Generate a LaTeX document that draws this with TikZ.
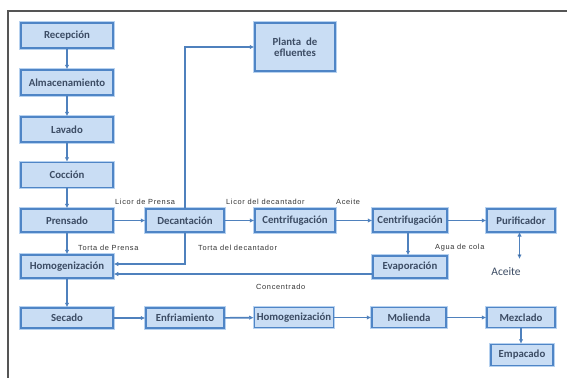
\documentclass[tikz,border=0pt]{standalone}
\usepackage{fontspec}
\setmainfont{Carlito}
\newfontfamily\lblfont[LetterSpace=9]{Liberation Sans}
\usetikzlibrary{arrows.meta}
\definecolor{boxfill}{HTML}{C9DDF4}
\definecolor{boxline}{HTML}{4F85C6}
\definecolor{boxhalo}{HTML}{B7D2F0}
\definecolor{arrowc}{HTML}{4F81BD}
\definecolor{boxtext}{HTML}{3C4C64}
\definecolor{framec}{HTML}{555555}
\tikzset{
  procbox/.style={draw=boxline, line width=1.5pt, fill=boxfill,
    preaction={draw=boxhalo, line width=3.5pt},
    inner sep=0pt, align=center, text=boxtext,
    font=\fontsize{10.8}{11.5}\selectfont\bfseries},
  lbl/.style={inner sep=0pt, text=black!80, font=\lblfont\fontsize{7.4}{8}\selectfont},
  flow/.style={draw=arrowc, line width=1.6pt, -{Latex[length=4.5pt,width=4.5pt]}},
}
\begin{document}
\begin{tikzpicture}[x=1pt,y=-1pt]
\useasboundingbox (0,0) rectangle (567,378);
\fill[white] (0,0) rectangle (567,378);
% frame
\draw[framec, line width=1.4pt] (567,11) -- (8,11) -- (8,378);

% left column
\node[procbox, minimum width=92pt, minimum height=25pt] (rec) at (67,35.5) {Recepción};
\node[procbox, minimum width=92pt, minimum height=25pt] (alm) at (67,82.5) {Almacenamiento};
\node[procbox, minimum width=92pt, minimum height=25pt] (lav) at (67,129.5) {Lavado};
\node[procbox, minimum width=92pt, minimum height=25pt] (coc) at (67,175) {Cocción};
\node[procbox, minimum width=92pt, minimum height=23pt] (pre) at (67,220.5) {Prensado};
\node[procbox, minimum width=92pt, minimum height=23pt] (hom1) at (67,266.5) {Homogenización};
\node[procbox, minimum width=92pt, minimum height=20pt] (sec) at (67,318) {Secado};

% other boxes
\node[procbox, minimum width=78pt, minimum height=23pt] (dec) at (185,220.5) {Decantación};
\node[procbox, minimum width=78pt, minimum height=20pt] (enf) at (185,318) {Enfriamiento};
\node[procbox, minimum width=80pt, minimum height=48pt] (pla) at (295,47) {Planta\ \ de\\efluentes};
\node[procbox, minimum width=80pt, minimum height=23pt] (cen1) at (295,220.5) {Centrifugación};
\node[procbox, minimum width=79pt, minimum height=20pt] (hom2) at (294,317.5) {Homogenización};
\node[procbox, minimum width=74pt, minimum height=23pt] (cen2) at (410,220.5) {Centrifugación};
\node[procbox, minimum width=74pt, minimum height=22pt] (eva) at (410,267) {Evaporación};
\node[procbox, minimum width=74pt, minimum height=20pt] (mol) at (409,317.5) {Molienda};
\node[procbox, minimum width=68pt, minimum height=23pt] (pur) at (521,220.5) {Purificador};
\node[procbox, minimum width=68pt, minimum height=20pt] (mez) at (521,317.5) {Mezclado};
\node[procbox, minimum width=62pt, minimum height=21pt] (emp) at (522,355) {Empacado};
\node[inner sep=1pt, text=boxtext, font=\fontsize{11.5}{12}\selectfont] (ace) at (506,272) {Aceite};
\coordinate (purOut) at (519.5,232);
\coordinate (aceTop) at (519.5,259);

% connectors
\draw[flow] (rec) -- (alm);
\draw[flow] (alm) -- (lav);
\draw[flow] (lav) -- (coc);
\draw[flow] (coc) -- (pre);
\draw[flow] (pre) -- (hom1);
\draw[flow] (hom1) -- (sec);
\draw[flow] (pre) -- (dec);
\draw[flow] (dec) -- (cen1);
\draw[flow] (cen1) -- (cen2);
\draw[flow] (cen2) -- (pur);
\draw[flow] ([xshift=-2pt]cen2.south) -- ([xshift=-2pt]eva.north);
\path[flow] (purOut) edge (aceTop);
\draw[flow] (dec.north) |- (pla.west);
\draw[flow] (dec.south) |- ([yshift=2.5pt]hom1.east);
\draw[flow] ([yshift=-7pt]eva.west) -- ([yshift=-7pt]eva.west -| hom1.east);
\draw[flow] (sec) -- (enf);
\draw[flow] (enf) -- (hom2);
\draw[flow] (hom2) -- (mol);
\draw[flow] (mol) -- (mez);
\draw[flow] (mez.south) -- (mez.south |- emp.north);

% labels
\node[lbl, anchor=west] (l1) at (115,202) {Licor de Prensa};
\node[lbl, anchor=west] (l2) at (226,202) {Licor del decantador};
\node[lbl, anchor=west] (l3) at (336,202) {Aceite};
\node[lbl, anchor=west] (l4) at (78,247.5) {Torta de Prensa};
\node[lbl, anchor=west] (l5) at (198,248) {Torta del decantador};
\node[lbl, anchor=west] (l6) at (435,248) {Agua de cola};
\node[lbl, anchor=west] (l7) at (256,287) {Concentrado};
\end{tikzpicture}
\end{document}
